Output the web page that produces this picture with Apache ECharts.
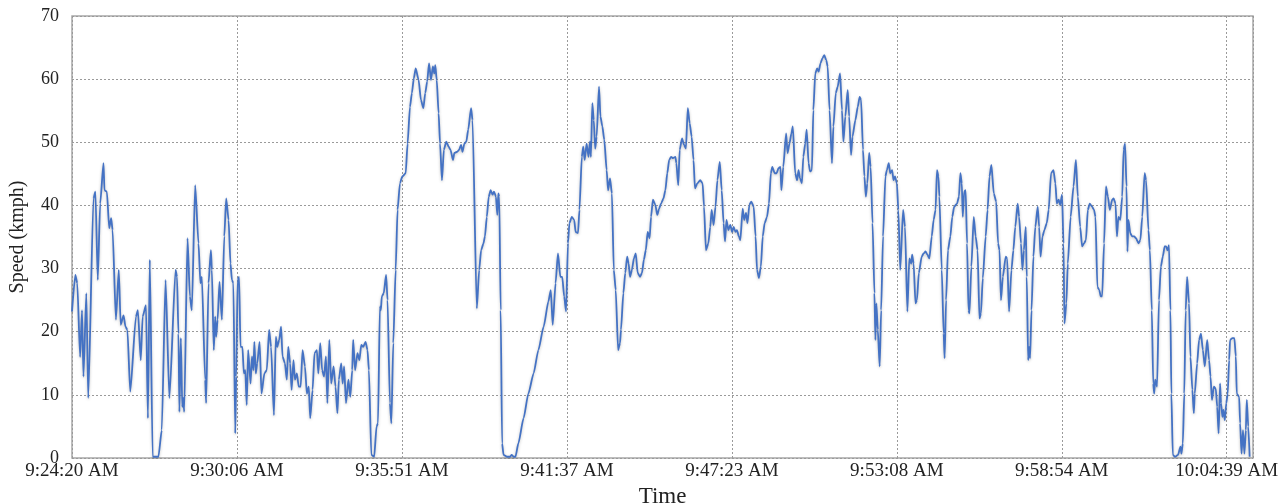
<!DOCTYPE html>
<html>
<head>
<meta charset="utf-8">
<script src="https://cdn.jsdelivr.net/npm/echarts@6/dist/echarts.min.js"></script>
<style>
html,body{margin:0;padding:0;background:#fff;}
#chart{width:1282px;height:503px;}
</style>
</head>
<body>
<div id="chart"></div>
<script>
// x values: seconds elapsed since 9:24:20 AM; y values: speed (kmph)
const xTickLabels = ['9:24:20 AM','9:30:06 AM','9:35:51 AM','9:41:37 AM','9:47:23 AM','9:53:08 AM','9:58:54 AM','10:04:39 AM'];
const xTickStepSec = 2419 / 7;
const xMaxSec = 2474;
const yTicks = [0,10,20,30,40,50,60,70];
const speedSamples = [
[0,23.2],[7,29.0],[11,27.7],[17,16.0],[21,23.4],[24,12.9],[30,26.1],[34,9.5],[45,41.1],[49,42.2],[54,28.2],[59,40.3],[66,46.7],[68,42.4],[73,42.2],[78,36.4],[82,38.0],[85,36.1],[92,21.9],[98,29.8],[102,21.1],[108,22.6],[112,20.8],[116,20.3],[122,10.5],[134,22.4],[138,23.4],[144,15.5],[148,22.4],[155,24.2],[159,6.3],[163,31.4],[169,0.2],[181,0.2],[188,4.4],[196,28.2],[204,9.5],
[217,29.8],[220,28.7],[223,19.7],[225,7.3],[228,19.0],[231,8.1],[233,9.5],[235,7.3],[242,34.8],[247,25.6],[251,23.4],[258,43.2],[265,34.0],[269,27.7],[272,28.7],[279,12.4],[281,8.7],[286,27.7],[291,32.9],[293,29.8],[297,17.1],[300,22.4],[302,19.2],[305,21.9],[309,27.9],[314,21.9],[319,35.1],[323,41.1],[328,37.7],[332,30.8],[335,28.2],[338,27.7],[342,3.9],[344,12.9],[347,28.2],[350,28.7],[353,17.6],[357,17.6],[360,13.4],[363,13.9],[366,8.4],[369,17.1],[374,11.8],[377,16.1],[380,13.9],[382,18.4],[385,13.4],[388,15.0],[393,18.4],[397,10.2],[403,13.4],[408,13.9],[413,20.3],[417,17.6],
[423,6.8],[427,19.2],[430,17.6],[434,18.7],[438,20.8],[441,16.1],[446,15.0],[450,12.4],[453,17.6],[457,15.0],[460,10.8],[464,15.5],[467,12.4],[471,13.4],[475,11.3],[479,11.3],[483,17.1],[488,14.5],[492,10.2],[496,11.3],[499,6.3],[504,10.8],[508,16.6],[513,17.1],[516,13.4],[520,18.2],[524,13.9],[528,12.9],[532,16.1],[535,8.7],[539,18.7],[543,11.8],[548,14.5],[552,11.3],[556,7.1],[559,12.4],[564,15.0],[567,11.8],[570,14.5],[574,8.7],[579,12.4],[583,9.7],[587,13.9],[589,18.7],[593,13.9],[598,16.6],[602,15.5],[606,17.9],[610,17.6],[615,18.4],[619,17.1],[622,13.9],[627,0.5],[633,0.2],
[638,5.0],[641,5.5],[645,24.0],[647,23.4],[649,25.6],[653,26.1],[658,29.0],[661,25.0],[666,8.7],[669,5.5],[673,18.2],[678,29.8],[682,39.3],[687,43.5],[692,44.6],[699,45.1],[703,49.8],[708,55.6],[712,57.8],[716,60.1],[720,61.7],[726,59.9],[731,56.7],[736,55.4],[740,57.8],[744,59.6],[748,62.5],[752,59.9],[756,62.0],[759,60.9],[761,62.2],[764,59.9],[768,54.6],[771,49.8],[775,44.0],[779,48.8],[784,50.1],[789,49.3],[793,48.8],[798,47.2],[801,48.3],[807,48.5],[811,48.8],[815,49.6],[818,48.5],[822,49.8],[826,50.1],[830,52.0],[836,55.4],[839,53.5],[848,23.7],[853,29.8],[857,32.9],[862,34.0],
[865,35.1],[869,38.2],[873,41.4],[877,42.4],[881,41.7],[884,42.2],[888,41.4],[891,38.5],[893,41.9],[895,41.4],[898,23.4],[901,2.3],[904,0.5],[911,0.2],[918,0.2],[921,0.5],[925,0.2],[929,0.2],[935,2.3],[946,6.3],[956,10.2],[967,13.4],[977,17.1],[988,20.8],[998,24.8],[1003,26.6],[1007,21.1],[1013,27.7],[1018,32.4],[1023,28.7],[1027,28.7],[1031,25.6],[1035,23.2],[1039,34.0],[1042,37.2],[1047,38.2],[1052,37.7],[1055,35.8],[1060,35.6],[1063,39.3],[1068,47.7],[1071,49.3],[1074,47.2],
[1078,49.8],[1082,47.7],[1085,50.1],[1087,47.7],[1090,56.2],[1093,53.5],[1096,49.0],[1099,50.9],[1104,58.8],[1107,54.1],[1111,52.5],[1115,50.4],[1120,45.6],[1123,42.4],[1127,44.3],[1131,41.9],[1135,29.8],[1139,26.6],[1144,17.1],[1148,18.2],[1150,20.3],[1155,26.1],[1159,29.3],[1163,31.9],[1166,30.8],[1169,28.7],[1173,29.8],[1177,31.6],[1181,32.4],[1185,29.3],[1190,28.7],[1194,29.3],[1198,31.4],[1202,32.9],[1206,35.8],[1210,34.8],[1213,38.2],[1217,40.9],[1222,40.1],[1226,38.5],[1230,39.5],[1234,40.3],[1239,41.1],[1243,42.4],[1247,45.1],[1251,47.2],[1255,47.7],[1259,47.5],[1264,47.7],[1266,46.7],[1270,43.2],[1273,48.8],[1278,50.6],[1282,49.6],[1286,49.0],[1290,55.4],[1294,53.0],[1298,50.9],
[1302,47.2],[1305,42.7],[1310,43.5],[1316,44.0],[1321,43.5],[1324,39.8],[1328,32.9],[1333,34.0],[1337,36.6],[1340,39.3],[1344,36.9],[1348,39.8],[1352,44.0],[1357,46.9],[1361,42.4],[1365,37.2],[1368,34.3],[1371,37.7],[1375,36.1],[1379,36.9],[1383,35.8],[1386,36.6],[1390,35.8],[1393,36.1],[1397,35.1],[1400,34.5],[1405,39.5],[1408,37.7],[1412,38.8],[1415,37.2],[1419,40.1],[1423,40.6],[1428,39.8],[1432,35.1],[1435,29.8],[1439,28.5],[1443,30.3],[1447,35.1],[1451,37.2],[1456,38.2],[1460,40.3],[1464,45.1],[1467,46.1],[1472,45.1],[1476,45.1],[1480,45.9],[1484,46.1],[1486,42.4],[1490,46.1],[1496,51.4],[1499,48.3],[1503,49.8],[1507,51.4],[1510,52.5],
[1515,45.1],[1519,44.0],[1522,45.6],[1525,44.3],[1529,43.5],[1532,47.7],[1536,49.8],[1539,52.0],[1543,46.7],[1546,45.4],[1550,45.6],[1553,55.1],[1557,60.9],[1561,61.7],[1564,61.2],[1568,62.5],[1572,63.3],[1576,63.8],[1580,63.0],[1583,62.0],[1587,55.1],[1592,46.7],[1595,52.5],[1600,57.8],[1604,58.8],[1609,60.9],[1613,55.1],[1616,50.1],[1620,54.1],[1625,58.3],[1628,54.1],[1632,48.0],[1635,50.9],[1641,53.5],[1646,55.6],[1650,57.2],[1653,56.7],[1657,48.8],[1660,44.6],[1663,41.4],[1666,43.5],[1670,48.3],[1673,46.1],[1677,37.2],[1681,26.1],[1683,18.7],[1685,24.5],[1688,20.3],[1692,14.5],[1695,23.4],[1699,35.1],[1704,44.6],[1707,45.6],[1711,46.7],[1714,45.1],[1718,45.6],[1721,44.0],[1724,44.6],[1728,43.5],[1731,39.3],[1735,29.8],
[1741,39.3],[1745,36.6],[1750,23.2],[1754,31.6],[1758,30.8],[1760,32.2],[1763,30.8],[1767,24.5],[1770,25.0],[1774,29.3],[1780,31.9],[1784,32.4],[1788,32.7],[1792,32.2],[1796,31.6],[1801,35.1],[1805,37.7],[1809,39.3],[1812,45.6],[1815,44.6],[1817,41.4],[1822,29.8],[1826,19.7],[1828,15.8],[1831,25.0],[1835,32.9],[1840,35.1],[1844,38.2],[1848,39.8],[1854,40.3],[1858,41.4],[1861,45.1],[1864,43.5],[1866,38.2],[1869,42.2],[1872,42.4],[1875,34.0],[1878,23.4],[1880,22.9],[1884,30.3],[1889,38.2],[1893,35.1],[1897,32.9],[1901,22.1],[1904,22.9],[1908,28.5],[1914,35.1],[1918,39.3],[1922,44.6],[1926,46.4],[1931,41.9],[1936,40.6],[1940,34.0],[1943,32.9],[1946,25.0],[1950,28.7],[1956,31.9],
[1959,31.6],[1963,23.2],[1968,29.8],[1972,32.9],[1976,36.6],[1981,40.3],[1984,38.2],[1988,34.0],[1991,29.8],[1994,32.9],[1998,36.6],[2000,28.7],[2003,15.5],[2005,17.6],[2007,15.8],[2010,23.4],[2014,31.9],[2018,36.6],[2023,39.8],[2026,36.6],[2029,31.9],[2033,35.1],[2037,36.1],[2042,37.2],[2046,39.3],[2051,45.1],[2056,45.6],[2060,43.5],[2063,40.3],[2067,40.9],[2070,40.1],[2074,41.7],[2077,34.0],[2079,21.3],[2083,24.5],[2086,30.8],[2092,38.2],[2098,43.0],[2103,47.2],[2107,41.4],[2112,36.6],[2116,33.5],[2120,34.0],[2124,34.5],[2128,39.3],[2132,40.3],[2137,39.8],[2141,39.3],[2144,38.2],[2148,27.1],[2152,26.6],[2155,25.6],[2158,25.6],[2162,34.0],[2166,43.0],[2170,41.4],[2174,39.3],
[2179,40.9],[2182,41.1],[2186,40.3],[2189,35.1],[2192,38.2],[2196,37.7],[2200,41.4],[2203,48.8],[2206,49.8],[2209,43.0],[2211,32.7],[2213,37.7],[2217,35.6],[2221,35.1],[2225,35.1],[2229,34.8],[2234,34.0],[2238,34.5],[2242,38.2],[2247,45.1],[2250,44.0],[2255,36.1],[2258,32.9],[2262,23.4],[2265,11.8],[2267,10.2],[2269,12.4],[2273,11.3],[2277,25.0],[2281,30.3],[2285,31.9],[2289,33.5],[2292,33.5],[2295,32.9],[2298,33.7],[2301,23.4],[2303,10.2],[2306,0.5],[2311,0.2],[2317,0.5],[2322,1.8],[2324,0.7],[2327,2.3],[2330,10.2],[2333,23.4],[2336,28.7],[2340,24.5],[2343,16.0],[2347,10.8],[2350,7.1],[2352,10.2],[2357,15.0],[2361,18.7],[2365,19.7],[2369,17.1],[2373,14.5],[2378,18.7],[2382,15.5],[2385,12.9],[2388,9.2],[2392,11.3],[2396,11.0],[2399,8.1],[2402,3.9],[2405,11.8],
[2407,8.7],[2410,6.5],[2412,7.6],[2415,6.0],[2418,8.7],[2421,10.2],[2424,15.5],[2426,18.7],[2431,19.0],[2435,19.0],[2438,16.1],[2440,10.2],[2445,9.7],[2447,5.5],[2450,0.7],[2453,4.4],[2456,0.7],[2459,4.4],[2461,9.2],[2464,5.0],[2467,0.2]
];

const FONT = '"Liberation Serif", "Times New Roman", serif';
const chart = echarts.init(document.getElementById('chart'), null, {renderer: 'canvas'});
const gridDash = {color: '#9a9a9a', width: 1, type: [2, 2]};
chart.setOption({
  animation: false,
  backgroundColor: '#ffffff',
  grid: {left: 72, right: 29, top: 16, bottom: 45, containLabel: false, outerBoundsMode: 'none',
         show: true, borderColor: '#a8a8a8', borderWidth: 1.5, backgroundColor: 'transparent'},
  xAxis: {
    type: 'value', min: 0, max: xMaxSec, interval: xTickStepSec,
    name: 'Time', nameLocation: 'middle', nameGap: 27,
    nameTextStyle: {fontFamily: FONT, fontSize: 23, color: '#222'},
    axisLine: {show: false}, axisTick: {show: false},
    splitLine: {show: true, lineStyle: gridDash},
    axisLabel: {
      margin: 4, fontFamily: FONT, fontSize: 19, color: '#222', showMaxLabel: true, showMinLabel: true,
      hideOverlap: false,
      formatter: function (v) {
        const i = Math.round(v / xTickStepSec);
        if (Math.abs(v - i * xTickStepSec) > 1) return '';
        return xTickLabels[i] || '';
      }
    }
  },
  yAxis: {
    type: 'value', min: yTicks[0], max: yTicks[yTicks.length - 1], interval: yTicks[1] - yTicks[0],
    name: 'Speed (kmph)', nameLocation: 'middle', nameGap: 44,
    nameTextStyle: {fontFamily: FONT, fontSize: 20, color: '#222'},
    axisLine: {show: false}, axisTick: {show: false},
    splitLine: {show: true, lineStyle: gridDash},
    axisLabel: {margin: 13, fontFamily: FONT, fontSize: 18, color: '#222'}
  },
  series: [{
    type: 'line', data: speedSamples, showSymbol: false, smooth: 0.2, smoothMonotone: 'x',
    lineStyle: {color: '#4472C4', width: 1.8, shadowColor: 'rgba(0,0,0,0.25)', shadowBlur: 3, shadowOffsetY: 1},
    itemStyle: {color: '#4472C4'}
  }]
});
</script>
</body>
</html>
